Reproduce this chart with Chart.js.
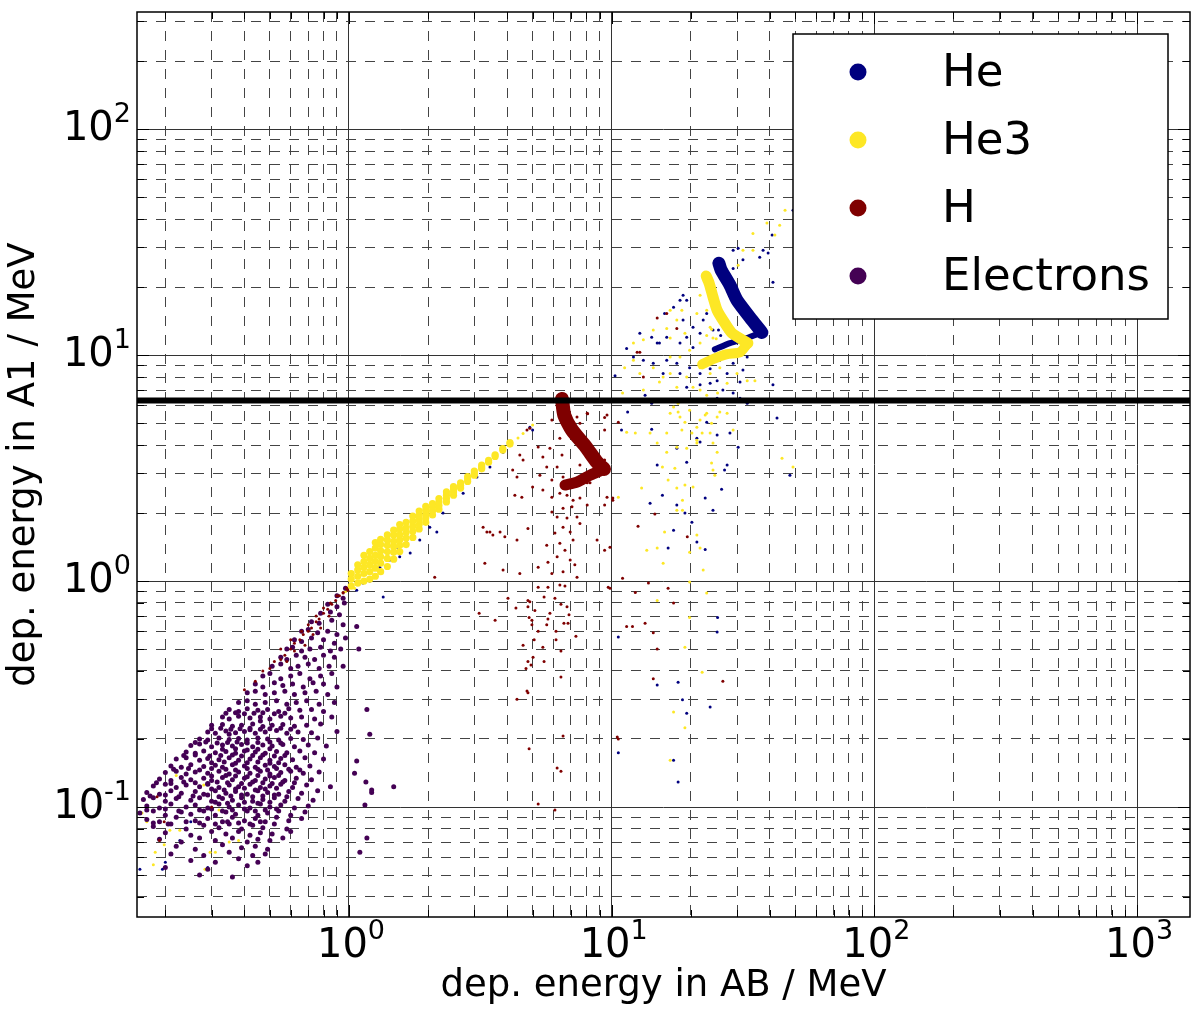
<!DOCTYPE html>
<html>
<head>
<meta charset="utf-8">
<script src="https://cdn.jsdelivr.net/npm/chart.js@4.4.1/dist/chart.umd.min.js"></script>
<style>
  html, body { margin: 0; padding: 0; background: #fff; }
  #wrap { width: 1200px; height: 1017px; position: relative; }
</style>
</head>
<body>
<div id="wrap"><canvas id="scatterChart"></canvas></div>
<script>
// specie, colori e testi
const speciesLabels = ['He', 'He3', 'H', 'Electrons'];
const speciesColors = ['#00007f', '#fde725', '#7f0000', '#440154'];
const xTitle = 'dep. energy in AB / MeV';
const yTitle = 'dep. energy in A1 / MeV';
const xRange = [0.156, 1590];
const yRange = [0.0326, 330];
const a1Threshold = 6.3;

// bande dense (percorso centrale), [AB, A1] in MeV
const heBand = [[25.6, 25.5], [26.1, 23.8], [28.2, 20.4], [30.0, 17.5], [34.2, 14.3], [37.3, 12.6]];
const heBandTail = [[37.3, 12.6], [32.7, 11.9], [28.2, 11.3], [24.7, 10.6]];
const he3Band = [[22.9, 22.4], [23.5, 20.8], [24.3, 18.1], [25.2, 15.8], [26.8, 14.0], [28.7, 12.5], [33.0, 11.3]];
const he3BandTail = [[33.0, 11.3], [30.8, 10.3], [27.5, 10.1], [24.3, 9.6], [22.1, 9.1]];
const hBand = [[6.47, 6.4], [6.6, 5.43], [7.06, 4.66], [7.98, 3.92], [8.79, 3.36], [9.35, 3.13]];
const hBandTail = [[9.35, 3.13], [8.27, 2.94], [7.38, 2.74], [6.64, 2.66]];

// punti sparsi He
const heDots = [
  [49.0, 43.8], [40.8, 34.0], [37.7, 29.1], [39.4, 28.3], [30.3, 29.7], [31.6, 26.4], [29.0, 24.2], [41.1, 21.0],
  [18.7, 18.4], [18.2, 17.5], [19.3, 17.5], [17.2, 16.3], [15.9, 15.3], [14.2, 12.0], [12.8, 12.5], [15.2, 11.3],
  [11.4, 10.7], [16.2, 12.0], [18.2, 11.3], [19.3, 12.0], [20.4, 10.8], [21.7, 12.5], [20.4, 13.3], [18.7, 14.3],
  [22.3, 14.3], [24.3, 9.8], [23.7, 8.7], [25.8, 9.5], [27.5, 8.3], [29.0, 9.2], [31.6, 8.6], [32.8, 9.8],
  [30.8, 7.6], [29.0, 6.8], [26.5, 7.0], [25.2, 7.7], [23.7, 7.5], [21.7, 8.3], [19.8, 8.8], [18.2, 8.3],
  [17.7, 9.2], [16.2, 9.5], [15.7, 8.3], [14.4, 9.2], [13.2, 9.5], [14.9, 11.3], [12.1, 9.8], [19.3, 7.2],
  [21.7, 7.4], [25.2, 6.45], [30.8, 6.45], [32.8, 6.13], [41.1, 7.4], [10.3, 8.1], [14.2, 6.13], [13.4, 6.65],
  [29.0, 29.1], [36.6, 27.1], [23.0, 15.3], [25.8, 15.0], [24.3, 12.9],
  [26.5, 13.5], [27.2, 12.8], [26.0, 12.2], [27.8, 13.8], [25.5, 12.9],
  [11.5, 5.6], [10.9, 4.66], [14.2, 4.7], [17.7, 3.87], [21.1, 4.29], [23.0, 5.05], [21.7, 4.12], [25.2, 4.43],
  [28.2, 4.52], [27.5, 3.26], [26.9, 3.1], [19.3, 3.36], [14.9, 3.26], [14.0, 2.21], [15.6, 2.4], [17.7, 2.17],
  [19.0, 2.0], [20.2, 1.82], [22.7, 2.33], [24.3, 2.06], [26.2, 2.55], [21.1, 1.49], [22.7, 1.38], [17.2, 1.68],
  [16.4, 1.4], [25.3, 0.69], [25.2, 0.595], [17.9, 0.357], [23.7, 0.277], [18.6, 0.298], [19.3, 0.26], [14.9, 0.347],
  [17.2, 0.161], [17.9, 0.129], [10.6, 0.174], [10.6, 0.565], [42.6, 5.27], [47.7, 2.94], [30.3, 3.91],
  [4.88, 4.8], [5.0, 4.66], [3.86, 3.72], [3.44, 3.2], [3.07, 2.89], [2.72, 2.45], [2.28, 2.0], [2.03, 1.73],
  [1.66, 1.52], [1.71, 1.33], [1.52, 1.41], [1.43, 1.24], [1.31, 1.15], [1.2, 1.0], [1.13, 0.98], [1.07, 0.91],
  [1.35, 0.85], [2.16, 1.65], [1.86, 1.52], [1.56, 1.28],
  [0.2, 0.057], [0.195, 0.053], [0.16, 0.053], [0.25, 0.086], [0.4, 0.086], [0.29, 0.054], [0.227, 0.071]
];

// punti sparsi He3
const he3Dots = [
  [45.7, 43.8], [43.6, 37.6], [39.0, 38.4], [41.8, 34.0], [34.5, 34.5], [34.5, 29.1], [31.6, 29.1], [30.3, 25.0],
  [21.7, 18.4], [23.0, 15.8], [21.1, 15.3], [18.5, 15.8], [17.7, 14.3], [16.7, 15.8], [16.2, 13.1], [14.4, 12.9],
  [13.2, 11.7], [12.1, 11.3], [16.7, 11.9], [19.0, 12.5], [19.8, 10.5], [21.7, 11.3], [24.3, 11.9], [23.7, 13.3],
  [18.2, 9.8], [16.7, 9.8], [14.4, 8.8], [15.7, 8.0], [12.1, 9.5], [12.8, 8.3], [11.2, 8.8], [11.0, 6.8],
  [13.2, 7.0], [16.7, 8.3], [17.7, 7.2], [19.3, 8.0], [20.4, 7.2], [21.7, 8.8], [23.7, 8.3], [25.8, 8.8],
  [27.5, 7.5], [30.0, 8.3], [32.8, 7.7], [35.1, 7.7], [21.7, 7.0], [23.0, 6.65], [25.3, 6.8], [17.2, 5.9],
  [16.7, 5.53], [18.2, 5.32], [16.2, 4.52], [18.5, 4.66], [20.2, 4.52], [21.7, 5.16], [23.0, 5.53], [23.7, 4.52],
  [21.1, 4.08], [14.0, 4.52], [27.5, 5.53], [29.0, 4.66], [17.9, 6.13], [15.2, 7.6],
  [17.9, 5.6], [19.0, 5.05], [19.8, 5.7], [21.1, 4.8], [22.1, 4.52], [22.7, 5.43], [24.0, 5.0], [25.2, 5.32],
  [25.8, 5.6], [24.3, 4.08], [25.2, 3.72], [24.0, 3.33], [24.3, 3.1], [24.7, 2.94], [21.1, 4.2], [19.3, 3.87],
  [17.7, 3.91], [16.2, 3.72], [14.9, 4.08], [12.3, 4.52], [11.4, 4.56], [15.6, 3.2], [17.4, 3.16], [16.4, 2.8],
  [17.7, 2.58], [19.0, 2.66], [20.4, 2.61], [13.0, 2.58], [10.6, 2.35], [18.6, 2.28], [17.7, 2.06], [18.6, 2.06],
  [15.9, 1.65], [14.9, 1.4], [13.6, 1.37], [15.7, 1.2], [19.8, 1.34], [21.1, 1.6], [21.7, 1.4], [22.3, 1.12],
  [19.8, 0.99], [23.0, 0.885], [14.9, 0.82], [19.8, 0.69], [19.0, 0.51], [22.1, 0.395], [17.2, 0.263], [19.0, 0.224],
  [16.7, 0.161], [44.5, 3.5], [49.0, 3.2], [24.0, 13.0], [23.0, 12.2], [25.0, 11.8],
  [0.163, 0.094], [0.183, 0.063], [0.18, 0.0555], [0.198, 0.068], [0.22, 0.138], [0.208, 0.079], [0.283, 0.053],
  [0.296, 0.063], [0.31, 0.063], [0.35, 0.07], [0.38, 0.071], [0.3, 0.079], [0.227, 0.079], [0.17, 0.086],
  [0.32, 0.097], [0.28, 0.125], [0.97, 0.9], [1.05, 0.93], [1.1, 1.0], [4.4, 4.3], [4.6, 4.5], [5.0, 4.9]
];

// banda diagonale He3 (AB ~ A1)
const he3Diagonal = [
  [1.02, 0.95], [1.02, 1.02], [1.02, 1.08], [1.08, 0.98], [1.08, 1.05], [1.08, 1.12], [1.08, 1.18],
  [1.14, 1.0], [1.14, 1.08], [1.14, 1.15], [1.14, 1.22], [1.14, 1.3], [1.2, 1.02], [1.2, 1.1], [1.2, 1.18],
  [1.2, 1.26], [1.2, 1.35], [1.26, 1.05], [1.26, 1.14], [1.26, 1.22], [1.26, 1.3], [1.26, 1.4], [1.26, 1.48],
  [1.32, 1.1], [1.32, 1.2], [1.32, 1.28], [1.32, 1.36], [1.32, 1.45], [1.32, 1.53], [1.4, 1.16], [1.4, 1.26],
  [1.4, 1.35], [1.4, 1.44], [1.4, 1.52], [1.4, 1.6], [1.48, 1.25], [1.48, 1.34], [1.48, 1.42], [1.48, 1.5],
  [1.48, 1.6], [1.48, 1.68], [1.56, 1.35], [1.56, 1.44], [1.56, 1.52], [1.56, 1.6], [1.56, 1.7], [1.56, 1.78],
  [1.65, 1.45], [1.65, 1.55], [1.65, 1.64], [1.65, 1.72], [1.65, 1.82], [1.75, 1.56], [1.75, 1.66], [1.75, 1.75],
  [1.75, 1.84], [1.75, 1.94], [1.85, 1.7], [1.85, 1.78], [1.85, 1.87], [1.85, 1.95], [1.85, 2.04], [1.96, 1.82],
  [1.96, 1.9], [1.96, 1.98], [1.96, 2.06], [1.96, 2.14], [2.08, 1.96], [2.08, 2.04], [2.08, 2.12], [2.08, 2.2],
  [2.2, 2.08], [2.2, 2.16], [2.2, 2.24], [2.2, 2.32], [2.35, 2.24], [2.35, 2.32], [2.35, 2.4], [2.35, 2.48],
  [2.5, 2.4], [2.5, 2.48], [2.5, 2.56], [2.5, 2.62], [2.66, 2.58], [2.66, 2.65], [2.66, 2.72], [2.83, 2.76],
  [2.83, 2.83], [2.83, 2.9], [3.0, 2.94], [3.0, 3.0], [3.0, 3.07], [3.2, 3.14], [3.2, 3.2], [3.2, 3.26],
  [3.4, 3.36], [3.4, 3.42], [3.6, 3.56], [3.6, 3.62], [3.85, 3.8], [3.85, 3.86], [4.1, 4.04], [4.1, 4.1]
];

// punti sparsi H
const hDots = [
  [4.76, 4.66], [4.88, 4.75], [4.47, 3.61], [4.6, 3.43], [4.2, 3.1], [4.36, 2.89], [5.25, 3.92], [5.47, 3.54],
  [5.82, 3.87], [5.66, 3.2], [5.33, 2.94], [6.2, 3.2], [5.92, 2.8], [5.0, 2.61], [5.47, 2.53], [4.28, 2.4],
  [4.55, 2.35], [5.92, 2.35], [6.35, 2.45], [6.76, 2.4], [7.13, 2.28], [7.57, 2.33], [8.07, 2.17], [7.06, 2.13],
  [6.53, 2.1], [5.92, 2.02], [6.2, 1.92], [6.76, 1.9], [7.38, 1.92], [7.57, 1.8], [6.53, 1.73], [6.08, 1.63],
  [6.95, 1.65], [7.13, 1.52], [6.35, 1.47], [5.66, 1.44], [6.64, 1.37], [6.2, 1.28], [6.95, 1.24], [7.24, 1.18],
  [5.72, 1.21], [5.25, 1.15], [5.92, 1.08], [6.53, 1.1], [7.38, 1.04], [3.76, 1.65], [3.44, 1.65], [3.53, 1.6],
  [3.92, 1.57], [4.36, 1.52], [3.29, 1.2], [4.8, 1.71], [7.77, 2.86], [8.07, 2.72], [9.6, 2.35], [9.4, 2.17],
  [10.1, 2.33], [8.27, 3.69], [7.38, 5.32], [8.07, 5.53], [9.6, 5.43], [7.57, 5.0], [5.92, 5.16], [6.35, 4.29],
  [6.47, 3.61], [6.53, 2.89], [7.57, 3.26], [8.27, 2.72],
  [5.25, 0.94], [5.72, 0.94], [6.35, 0.96], [6.64, 0.95], [4.03, 0.84], [4.8, 0.82], [5.53, 0.85], [6.08, 0.84],
  [6.41, 0.79], [6.76, 0.77], [4.32, 0.76], [4.8, 0.77], [6.88, 0.71], [5.82, 0.72], [3.13, 0.72], [4.85, 0.69],
  [4.97, 0.67], [5.72, 0.68], [3.6, 0.67], [4.97, 0.64], [5.66, 0.64], [6.58, 0.65], [6.82, 0.65], [6.14, 0.6],
  [5.25, 0.6], [7.31, 0.57], [11.4, 0.63], [12.0, 0.63], [12.3, 0.89], [9.7, 0.94], [5.07, 0.55], [6.14, 0.55],
  [5.47, 0.51], [6.41, 0.49], [4.6, 0.52], [5.02, 0.46], [4.8, 0.44], [5.53, 0.44], [4.93, 0.425], [4.72, 0.41],
  [6.41, 0.376], [4.76, 0.326], [4.8, 0.32], [4.36, 0.3], [6.53, 0.206], [4.85, 0.181], [6.2, 0.149], [6.41, 0.144],
  [10.5, 0.204], [5.25, 0.103], [6.08, 0.097],
  [11.0, 1.03], [12.6, 1.75], [13.8, 0.98], [14.6, 1.98], [19.4, 1.57], [13.4, 0.65], [14.4, 0.59], [14.9, 0.5],
  [16.4, 0.93], [17.2, 0.8], [14.4, 0.37], [26.5, 0.36], [10.6, 0.2], [9.85, 0.93], [10.1, 2.28], [9.4, 3.43],
  [9.4, 5.3], [8.8, 1.52], [9.85, 1.41], [9.4, 1.37], [8.1, 5.5],
  [14.9, 14.6], [16.2, 15.3], [17.7, 13.1], [12.8, 10.3], [12.5, 10.3], [13.2, 8.0], [10.6, 5.05], [9.4, 4.66],
  [3.24, 1.73], [3.35, 1.65], [3.86, 1.12], [4.88, 0.81], [5.1, 0.74], [4.47, 1.08],
  [0.5, 0.41], [0.52, 0.44], [0.55, 0.45], [0.57, 0.47], [0.6, 0.5], [0.62, 0.53], [0.65, 0.55], [0.67, 0.58],
  [0.7, 0.6], [0.72, 0.62], [0.75, 0.66], [0.77, 0.68], [0.8, 0.72], [0.83, 0.75], [0.86, 0.79], [0.89, 0.82],
  [0.92, 0.86], [0.95, 0.89], [0.98, 0.93], [0.55, 0.5], [0.6, 0.55], [0.66, 0.6], [0.7, 0.64], [0.75, 0.7],
  [0.8, 0.76], [0.85, 0.8], [0.9, 0.86], [0.62, 0.49], [0.68, 0.52], [0.73, 0.58], [0.78, 0.62], [0.84, 0.7],
  [0.47, 0.4], [0.44, 0.36], [0.58, 0.44], [0.4, 0.33], [0.95, 0.885], [0.99, 0.91], [2.12, 1.04],
  [0.186, 0.111], [0.19, 0.071], [0.198, 0.086], [0.3, 0.1]
];

// nuvola degli elettroni
const electronDots = [
  [0.97, 0.93], [0.9, 0.86], [0.95, 0.84], [0.83, 0.79], [0.9, 0.77], [0.96, 0.8], [0.78, 0.72], [0.85, 0.73],
  [0.92, 0.71], [0.72, 0.66], [0.77, 0.65], [0.86, 0.67], [0.95, 0.64], [0.66, 0.6], [0.7, 0.61], [0.76, 0.59],
  [0.83, 0.6], [0.9, 0.58], [0.62, 0.55], [0.66, 0.54], [0.72, 0.56], [0.8, 0.55], [0.88, 0.53], [0.97, 0.56],
  [0.58, 0.5], [0.61, 0.51], [0.66, 0.49], [0.71, 0.5], [0.78, 0.51], [0.85, 0.49], [0.93, 0.5],
  [0.55, 0.46], [0.58, 0.45], [0.63, 0.47], [0.68, 0.46], [0.74, 0.45], [0.8, 0.47], [0.88, 0.46],
  [0.51, 0.42], [0.55, 0.43], [0.6, 0.41], [0.64, 0.42], [0.7, 0.43], [0.77, 0.41], [0.84, 0.42], [0.95, 0.42],
  [0.47, 0.38], [0.5, 0.39], [0.55, 0.37], [0.6, 0.38], [0.65, 0.39], [0.71, 0.37], [0.78, 0.38], [0.86, 0.39],
  [0.44, 0.35], [0.47, 0.34], [0.52, 0.355], [0.56, 0.345], [0.61, 0.35], [0.67, 0.34], [0.73, 0.355], [0.8, 0.35], [0.9, 0.34],
  [0.41, 0.32], [0.44, 0.325], [0.48, 0.315], [0.52, 0.32], [0.57, 0.325], [0.62, 0.315], [0.68, 0.32], [0.75, 0.325], [0.83, 0.315],
  [0.38, 0.29], [0.41, 0.295], [0.44, 0.285], [0.48, 0.29], [0.53, 0.295], [0.58, 0.285], [0.63, 0.29], [0.69, 0.295], [0.77, 0.285], [0.88, 0.29],
  [0.35, 0.27], [0.38, 0.265], [0.41, 0.272], [0.45, 0.268], [0.49, 0.27], [0.54, 0.265], [0.59, 0.272], [0.65, 0.268], [0.72, 0.27], [0.8, 0.265],
  [0.33, 0.25], [0.35, 0.245], [0.38, 0.252], [0.42, 0.248], [0.46, 0.25], [0.5, 0.245], [0.55, 0.252], [0.6, 0.248], [0.66, 0.25], [0.74, 0.245], [0.86, 0.25],
  [0.3, 0.23], [0.33, 0.232], [0.36, 0.228], [0.39, 0.23], [0.43, 0.233], [0.47, 0.227], [0.51, 0.23], [0.56, 0.232], [0.62, 0.228], [0.69, 0.23], [0.78, 0.233],
  [0.29, 0.215], [0.31, 0.212], [0.34, 0.217], [0.37, 0.213], [0.4, 0.216], [0.44, 0.212], [0.48, 0.215], [0.53, 0.218], [0.58, 0.212], [0.64, 0.215], [0.72, 0.213], [0.9, 0.216],
  [0.27, 0.2], [0.29, 0.198], [0.32, 0.202], [0.35, 0.199], [0.38, 0.201], [0.41, 0.198], [0.45, 0.202], [0.49, 0.2], [0.54, 0.198], [0.6, 0.201], [0.67, 0.199], [0.76, 0.202],
  [0.25, 0.187], [0.27, 0.19], [0.3, 0.185], [0.33, 0.188], [0.36, 0.186], [0.39, 0.189], [0.43, 0.185], [0.47, 0.188], [0.51, 0.186], [0.56, 0.189], [0.62, 0.185], [0.7, 0.188], [0.82, 0.186],
  [0.24, 0.175], [0.26, 0.173], [0.28, 0.177], [0.31, 0.174], [0.34, 0.176], [0.37, 0.173], [0.4, 0.177], [0.44, 0.175], [0.48, 0.173], [0.53, 0.176], [0.58, 0.174], [0.65, 0.177], [0.74, 0.174],
  [0.22, 0.163], [0.24, 0.165], [0.27, 0.161], [0.29, 0.164], [0.32, 0.162], [0.35, 0.165], [0.38, 0.161], [0.42, 0.163], [0.46, 0.165], [0.5, 0.161], [0.55, 0.164], [0.61, 0.162], [0.68, 0.165], [0.8, 0.163],
  [0.21, 0.152], [0.23, 0.15], [0.25, 0.154], [0.28, 0.151], [0.31, 0.153], [0.33, 0.15], [0.36, 0.154], [0.4, 0.152], [0.44, 0.15], [0.48, 0.153], [0.52, 0.151], [0.57, 0.154], [0.63, 0.15], [0.71, 0.152],
  [0.2, 0.142], [0.22, 0.144], [0.24, 0.14], [0.26, 0.143], [0.29, 0.141], [0.32, 0.144], [0.35, 0.14], [0.38, 0.143], [0.42, 0.141], [0.46, 0.144], [0.5, 0.14], [0.55, 0.142], [0.6, 0.144], [0.67, 0.141], [0.77, 0.143],
  [0.19, 0.133], [0.21, 0.131], [0.23, 0.135], [0.25, 0.132], [0.28, 0.134], [0.3, 0.131], [0.33, 0.135], [0.36, 0.132], [0.4, 0.134], [0.44, 0.131], [0.48, 0.133], [0.52, 0.135], [0.57, 0.131], [0.63, 0.134], [0.72, 0.132],
  [0.18, 0.124], [0.2, 0.126], [0.22, 0.122], [0.24, 0.125], [0.27, 0.123], [0.29, 0.126], [0.32, 0.122], [0.35, 0.125], [0.38, 0.123], [0.42, 0.126], [0.46, 0.122], [0.5, 0.124], [0.55, 0.126], [0.61, 0.122], [0.69, 0.125], [0.85, 0.123],
  [0.17, 0.116], [0.19, 0.114], [0.21, 0.118], [0.23, 0.115], [0.26, 0.117], [0.28, 0.114], [0.31, 0.118], [0.34, 0.115], [0.37, 0.117], [0.41, 0.114], [0.45, 0.118], [0.49, 0.116], [0.54, 0.114], [0.59, 0.117], [0.66, 0.115], [0.76, 0.118],
  [0.165, 0.108], [0.18, 0.11], [0.2, 0.106], [0.22, 0.109], [0.25, 0.107], [0.27, 0.11], [0.3, 0.106], [0.33, 0.109], [0.36, 0.107], [0.39, 0.11], [0.43, 0.106], [0.47, 0.108], [0.52, 0.11], [0.57, 0.106], [0.64, 0.109], [0.73, 0.107],
  [0.17, 0.101], [0.19, 0.099], [0.21, 0.103], [0.24, 0.1], [0.26, 0.102], [0.29, 0.099], [0.32, 0.103], [0.35, 0.1], [0.38, 0.102], [0.42, 0.099], [0.46, 0.103], [0.5, 0.1], [0.55, 0.102], [0.62, 0.099], [0.7, 0.101],
  [0.16, 0.094], [0.18, 0.096], [0.2, 0.092], [0.23, 0.095], [0.25, 0.093], [0.28, 0.096], [0.31, 0.092], [0.34, 0.095], [0.37, 0.093], [0.41, 0.096], [0.45, 0.092], [0.49, 0.094], [0.54, 0.096], [0.6, 0.092], [0.68, 0.095],
  [0.17, 0.088], [0.19, 0.086], [0.22, 0.09], [0.26, 0.087], [0.29, 0.089], [0.33, 0.086], [0.36, 0.09], [0.4, 0.087], [0.44, 0.089], [0.48, 0.086], [0.53, 0.09], [0.59, 0.087], [0.66, 0.089],
  [0.18, 0.082], [0.21, 0.084], [0.24, 0.08], [0.28, 0.083], [0.32, 0.081], [0.35, 0.084], [0.39, 0.08], [0.43, 0.083], [0.47, 0.081], [0.52, 0.084], [0.58, 0.08],
  [0.2, 0.077], [0.25, 0.075], [0.3, 0.078], [0.34, 0.076], [0.38, 0.078], [0.42, 0.075], [0.46, 0.077], [0.51, 0.076], [0.6, 0.078],
  [0.19, 0.072], [0.23, 0.07], [0.27, 0.073], [0.31, 0.071], [0.36, 0.073], [0.41, 0.07], [0.45, 0.072], [0.5, 0.071], [0.56, 0.073],
  [0.22, 0.067], [0.26, 0.065], [0.33, 0.068], [0.39, 0.066], [0.44, 0.067], [0.49, 0.065],
  [0.21, 0.062], [0.28, 0.061], [0.35, 0.063], [0.43, 0.061], [0.48, 0.062],
  [0.25, 0.058], [0.31, 0.057], [0.38, 0.059], [0.45, 0.057], [0.2, 0.054], [0.29, 0.053], [0.41, 0.055],
  [0.27, 0.05], [0.36, 0.049],
  [0.31, 0.105], [0.345, 0.104], [0.4, 0.105], [0.45, 0.104], [0.5, 0.105],
  [0.3, 0.12], [0.335, 0.119], [0.37, 0.12], [0.4, 0.121], [0.44, 0.119], [0.48, 0.12], [0.53, 0.121],
  [0.3, 0.137], [0.34, 0.138], [0.37, 0.137], [0.41, 0.136], [0.45, 0.138], [0.5, 0.137], [0.54, 0.138],
  [0.3, 0.157], [0.335, 0.158], [0.37, 0.156], [0.41, 0.157], [0.45, 0.158], [0.5, 0.156], [0.54, 0.157],
  [0.33, 0.18], [0.37, 0.181], [0.41, 0.179], [0.45, 0.18], [0.5, 0.181], [0.35, 0.21], [0.42, 0.22], [0.46, 0.24],
  [0.215, 0.147], [0.245, 0.148], [0.27, 0.146], [0.3, 0.148], [0.34, 0.147], [0.37, 0.146], [0.41, 0.148],
  [0.45, 0.147], [0.49, 0.146], [0.53, 0.148], [0.59, 0.147], [0.65, 0.146],
  [0.185, 0.128], [0.21, 0.127], [0.235, 0.129], [0.26, 0.128], [0.29, 0.127], [0.315, 0.129], [0.345, 0.128],
  [0.39, 0.127], [0.43, 0.129], [0.47, 0.128], [0.51, 0.127], [0.56, 0.129], [0.62, 0.128],
  [0.175, 0.112], [0.2, 0.113], [0.225, 0.111], [0.255, 0.112], [0.29, 0.113], [0.32, 0.111], [0.355, 0.112],
  [0.39, 0.113], [0.43, 0.111], [0.47, 0.112], [0.52, 0.113], [0.58, 0.111],
  [0.17, 0.097], [0.2, 0.098], [0.225, 0.096], [0.27, 0.097], [0.3, 0.098], [0.33, 0.096], [0.36, 0.097],
  [0.4, 0.098], [0.44, 0.096], [0.48, 0.097], [0.53, 0.098],
  [0.235, 0.169], [0.26, 0.17], [0.295, 0.168], [0.325, 0.169], [0.36, 0.17], [0.39, 0.168], [0.43, 0.169],
  [0.47, 0.17], [0.52, 0.168], [0.57, 0.169],
  [0.26, 0.193], [0.285, 0.194], [0.315, 0.192], [0.345, 0.193], [0.375, 0.194], [0.41, 0.192], [0.45, 0.193],
  [0.5, 0.194], [0.55, 0.192],
  [0.3, 0.222], [0.325, 0.223], [0.355, 0.221], [0.385, 0.222], [0.42, 0.223], [0.46, 0.221], [0.5, 0.222],
  [0.55, 0.223], [0.6, 0.221],
  [0.34, 0.26], [0.37, 0.261], [0.4, 0.259], [0.435, 0.26], [0.47, 0.261], [0.52, 0.259], [0.57, 0.26],
  [0.18, 0.085], [0.205, 0.084], [0.24, 0.086], [0.27, 0.085], [0.31, 0.084], [0.345, 0.086], [0.38, 0.085],
  [0.42, 0.084], [0.46, 0.086],
  [1.05, 0.141], [1.16, 0.129], [1.48, 0.123], [1.22, 0.116], [1.15, 0.102], [1.17, 0.073], [1.1, 0.063],
  [1.07, 0.63], [1.09, 0.5], [1.17, 0.27], [1.2, 0.21], [1.07, 0.16], [1.22, 0.119]
];

// Funzioni di supporto
function pts(list) {
    return list.map(p => ({ x: p[0], y: p[1] }));
}
function isDecade(v) {
    const l = Math.log10(v);
    return Math.abs(l - Math.round(l)) < 1e-6;
}
function logTicks(min, max) {
    const out = [];
    for (let e = -3; e <= 4; e++) {
        for (let m = 1; m <= 9; m++) {
            const v = parseFloat((m * Math.pow(10, e)).toPrecision(6));
            if (v >= min && v <= max) out.push({ value: v });
        }
    }
    return out;
}

function dotSet(label, list, color, radius, order) {
    return { label: label, data: pts(list), backgroundColor: color, borderWidth: 0,
             pointRadius: radius, pointHoverRadius: radius, order: order };
}
function bandSet(label, list, color, width, order) {
    return { label: label, data: pts(list), showLine: true, pointRadius: 0, pointHoverRadius: 0,
             borderColor: color, borderWidth: width, borderCapStyle: 'round', borderJoinStyle: 'round',
             tension: 0.2, fill: false, order: order };
}

const datasets = [
    bandSet('H', hBand, speciesColors[2], 14, 0),
    bandSet('H', hBandTail, speciesColors[2], 11, 0),
    dotSet('H', hDots, speciesColors[2], 1.5, 0),
    dotSet('Electrons', electronDots, speciesColors[3], 2.5, 1),
    bandSet('He3', he3Band, speciesColors[1], 11, 2),
    bandSet('He3', he3BandTail, speciesColors[1], 10, 2),
    dotSet('He3', he3Diagonal, speciesColors[1], 3.6, 2),
    dotSet('He3', he3Dots, speciesColors[1], 1.5, 2),
    bandSet('He', heBand, speciesColors[0], 13, 3),
    bandSet('He', heBandTail, speciesColors[0], 6, 3),
    dotSet('He', heDots, speciesColors[0], 1.5, 3)
];

// etichette 10^n con esponente in apice
const tickFont = '40px "DejaVu Sans"';
const supFont = '27px "DejaVu Sans"';
function drawPower(ctx, v, left, baseY) {
    const e = String(Math.round(Math.log10(v)));
    ctx.font = tickFont;
    const w1 = ctx.measureText('10').width;
    ctx.fillText('10', left, baseY);
    ctx.font = supFont;
    ctx.fillText(e, left + w1, baseY - 18);
}
function powerWidth(ctx, v) {
    const e = String(Math.round(Math.log10(v)));
    ctx.font = tickFont;
    const w1 = ctx.measureText('10').width;
    ctx.font = supFont;
    return w1 + ctx.measureText(e).width;
}

// Plugin: linea di soglia, tacche, cornice, etichette e legenda
const decorations = {
    id: 'decorations',
    afterDatasetsDraw(chart) {
        const { ctx, chartArea: a, scales: { x, y } } = chart;
        ctx.save();
        const yt = y.getPixelForValue(a1Threshold);
        ctx.strokeStyle = '#000';
        ctx.lineWidth = 6;
        ctx.beginPath();
        ctx.moveTo(a.left, yt);
        ctx.lineTo(a.right, yt);
        ctx.stroke();

        ctx.lineWidth = 1;
        x.ticks.forEach(t => {
            const px = Math.round(x.getPixelForValue(t.value)) + 0.5;
            const len = isDecade(t.value) ? 12 : 7;
            ctx.beginPath();
            ctx.moveTo(px, a.bottom); ctx.lineTo(px, a.bottom - len);
            ctx.moveTo(px, a.top); ctx.lineTo(px, a.top + len);
            ctx.stroke();
        });
        y.ticks.forEach(t => {
            const py = Math.round(y.getPixelForValue(t.value)) + 0.5;
            const len = isDecade(t.value) ? 12 : 7;
            ctx.beginPath();
            ctx.moveTo(a.left, py); ctx.lineTo(a.left + len, py);
            ctx.moveTo(a.right, py); ctx.lineTo(a.right - len, py);
            ctx.stroke();
        });
        ctx.lineWidth = 1.5;
        ctx.strokeRect(a.left, a.top, a.right - a.left, a.bottom - a.top);
        ctx.restore();
    },
    afterDraw(chart) {
        const { ctx, chartArea: a, scales: { x, y } } = chart;
        ctx.save();
        ctx.fillStyle = '#000';
        ctx.textAlign = 'left';
        ctx.textBaseline = 'alphabetic';
        x.ticks.filter(t => isDecade(t.value)).forEach(t => {
            const w = powerWidth(ctx, t.value);
            drawPower(ctx, t.value, x.getPixelForValue(t.value) - w / 2 + 2, a.bottom + 40);
        });
        y.ticks.filter(t => isDecade(t.value)).forEach(t => {
            const w = powerWidth(ctx, t.value);
            drawPower(ctx, t.value, a.left - 6 - w, y.getPixelForValue(t.value) + 11);
        });

        // legenda
        const boxW = 375, boxH = 285;
        const bx = a.right - 22 - boxW, by = a.top + 22;
        ctx.fillStyle = '#fff';
        ctx.fillRect(bx, by, boxW, boxH);
        ctx.strokeStyle = '#000';
        ctx.lineWidth = 1.5;
        ctx.strokeRect(bx, by, boxW, boxH);
        ctx.font = '45px "DejaVu Sans"';
        ctx.textBaseline = 'middle';
        speciesLabels.forEach((lab, i) => {
            const cy = by + 38 + i * 68;
            ctx.fillStyle = speciesColors[i];
            ctx.beginPath();
            ctx.arc(bx + 65, cy, 8.5, 0, Math.PI * 2);
            ctx.fill();
            ctx.fillStyle = '#000';
            ctx.fillText(lab, bx + 149, cy + 2);
        });
        ctx.restore();
    }
};

const gridColor = ctx => isDecade(ctx.tick.value) ? '#333' : '#444';
const gridDash = ctx => isDecade(ctx.tick.value) ? [] : [10, 9];

// Ottieni il contesto del canvas e crea il grafico
var ctx = document.getElementById('scatterChart').getContext('2d');
new Chart(ctx, {
    type: 'scatter',
    data: { datasets: datasets },
    options: {
        responsive: true,
        maintainAspectRatio: false,
        animation: false,
        events: [],
        layout: { padding: { top: 12, right: 10, left: 0, bottom: 0 } },
        plugins: { legend: { display: false }, tooltip: { enabled: false } },
        scales: {
            x: {
                type: 'logarithmic',
                min: xRange[0],
                max: xRange[1],
                afterBuildTicks: scale => { scale.ticks = logTicks(scale.min, scale.max); },
                afterFit: scale => { scale.height = 100; scale.paddingLeft = 0; scale.paddingRight = 0; },
                ticks: { display: false, autoSkip: false },
                grid: { color: gridColor, lineWidth: 1, drawTicks: false },
                border: { display: false, dash: gridDash },
                title: {
                    display: true, text: xTitle, color: '#000',
                    font: { family: 'DejaVu Sans', size: 37 },
                    padding: { top: 0, bottom: 8 }
                }
            },
            y: {
                type: 'logarithmic',
                min: yRange[0],
                max: yRange[1],
                afterBuildTicks: scale => { scale.ticks = logTicks(scale.min, scale.max); },
                afterFit: scale => { scale.width = 137; scale.paddingTop = 0; scale.paddingBottom = 0; },
                ticks: { display: false, autoSkip: false },
                grid: { color: gridColor, lineWidth: 1, drawTicks: false },
                border: { display: false, dash: gridDash },
                title: {
                    display: true, text: yTitle, color: '#000',
                    font: { family: 'DejaVu Sans', size: 37 },
                    padding: { top: 2, bottom: 0 }
                }
            }
        }
    },
    plugins: [decorations]
});
</script>
</body>
</html>
